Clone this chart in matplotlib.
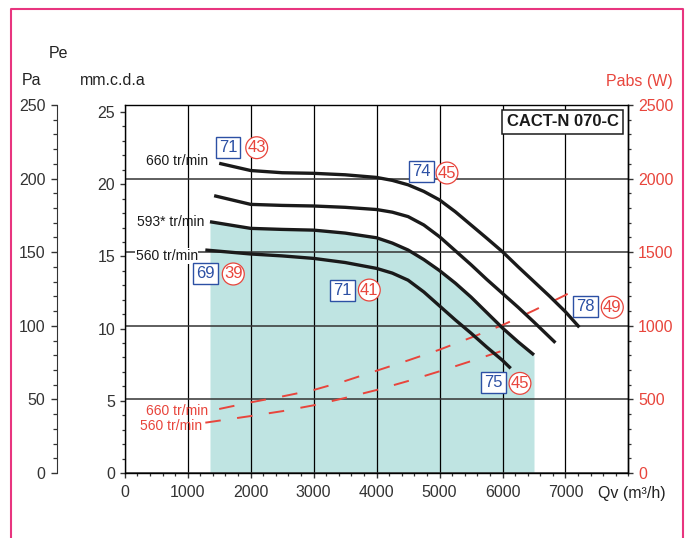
import numpy as np
import matplotlib.pyplot as plt
from matplotlib.lines import Line2D
from matplotlib.ticker import MultipleLocator, FixedLocator

plt.rcParams['font.family'] = ['Liberation Sans', 'DejaVu Sans']

# pressure curves : Qv (m3/h) / Pe (Pa)
q_660 = [1500, 2000, 2500, 3000, 3500, 4000, 4250, 4500, 4750, 5000, 5250, 5500, 5750, 6000, 6250, 6500, 6750, 7000, 7220]
pe_660 = [210.4, 205.5, 204, 203.6, 202.6, 200.8, 198.8, 195.8, 191.3, 185.5, 177.5, 168.5, 159.5, 150.3, 140, 130, 120, 109.5, 99]

q_620 = [1420, 2000, 2500, 3000, 3500, 4000, 4250, 4500, 4750, 5000, 5250, 5500, 5750, 6000, 6250, 6500, 6840]
pe_620 = [188.4, 182.5, 181.8, 181.4, 180.5, 179, 177.2, 174.2, 168.5, 160.5, 151, 141.5, 131.5, 122, 112.5, 102.5, 88.5]

q_593 = [1354, 2000, 2500, 3000, 3500, 4000, 4250, 4500, 4750, 5000, 5250, 5500, 5750, 6000, 6250, 6500]
pe_593 = [170.7, 166.2, 165.5, 165, 163, 159.8, 156.2, 151.5, 145, 137.5, 129, 119.5, 109, 98.5, 89, 80.2]

q_560 = [1280, 2000, 2500, 3000, 3500, 4000, 4250, 4500, 4750, 5000, 5250, 5500, 5750, 6000, 6130]
pe_560 = [151.5, 148.8, 147.5, 145.8, 143, 139, 135.8, 131, 123, 113.5, 104, 95, 85.5, 76.5, 71.1]

# absorbed power : Qv (m3/h) / Pabs (W)
qp_660 = [1500, 2000, 2500, 3000, 3500, 4000, 4500, 5000, 5500, 6000, 6500, 7000, 7220]
pabs_660 = [435, 480, 520, 564, 625, 695, 765, 838, 920, 1005, 1105, 1209, 1266]

qp_560 = [1280, 2000, 2500, 3000, 3500, 4000, 4500, 5000, 5500, 6000, 6140]
pabs_560 = [342, 387, 420, 460, 510, 564, 625, 691, 760, 831, 854]

# point labels : efficiency (blue box) and noise (red circle)
eff_labels = ['71', '74', '69', '71', '75', '78']
noise_labels = ['43', '45', '39', '41', '45', '49']

MM = 9.81  # Pa per mm.c.d.a
red = '#e8453c'
blue = '#2c50a4'

fig = plt.figure(figsize=(6.91, 5.38), dpi=100)
ax = fig.add_axes([0.1805, 0.1208, 0.729, 0.684])

ax.fill_between(q_593, pe_593, 0, color='#bfe4e2', lw=0, zorder=0.2)
for q, pe in [(q_660, pe_660), (q_620, pe_620), (q_593, pe_593), (q_560, pe_560)]:
    ax.plot(q, pe, color='#1a1a1a', lw=2.4, solid_capstyle='butt', solid_joinstyle='round', zorder=3)

ax.plot(qp_660, np.array(pabs_660) / 10, color=red, lw=1.4, dashes=(8, 8.5), zorder=2.5)
ax.plot(qp_560, np.array(pabs_560) / 10, color=red, lw=1.4, dashes=(8, 8.5), zorder=2.5)

ax.set_xlim(0, 8000)
ax.set_ylim(0, 250)
ax.set_axisbelow(True)

# Pa axis (offset to the left)
ax.spines['left'].set_position(('outward', 48.7))
ax.spines['left'].set_color('#333333')
ax.yaxis.set_major_locator(MultipleLocator(50))
ax.yaxis.set_minor_locator(MultipleLocator(10))
ax.tick_params(axis='y', which='major', direction='out', length=4.3, width=1, pad=4, labelsize=11.5, colors='#333333')
ax.tick_params(axis='y', which='minor', direction='out', length=2.8, width=0.9, colors='#333333')
ax.xaxis.set_major_locator(FixedLocator(range(0, 8000, 1000)))
ax.xaxis.set_minor_locator(MultipleLocator(200))
ax.tick_params(axis='x', which='major', direction='out', length=3.8, width=1, pad=5, labelsize=11.5, colors='#333333')
ax.tick_params(axis='x', which='minor', direction='out', length=2.5, width=0.9, colors='#333333')
for s in ['top', 'right', 'bottom']:
    ax.spines[s].set_linewidth(1.0)
ax.grid(axis='x', color='black', lw=0.9)
ax.grid(axis='y', color='#333333', lw=1.1)

# mm.c.d.a axis (box left side)
ax_mm = ax.twinx()
ax_mm.set_ylim(0, 250 / MM)
ax_mm.yaxis.set_ticks_position('left')
ax_mm.yaxis.set_label_position('left')
ax_mm.yaxis.set_major_locator(MultipleLocator(5))
ax_mm.yaxis.set_minor_locator(MultipleLocator(1))
ax_mm.tick_params(axis='y', which='major', direction='out', length=3.8, width=1, pad=3, labelsize=11.5, colors='#333333')
ax_mm.tick_params(axis='y', which='minor', direction='out', length=2.5, width=0.9, colors='#333333')
for s in ['top', 'right', 'bottom']:
    ax_mm.spines[s].set_visible(False)
ax_mm.spines['left'].set_linewidth(1.0)

# absorbed power axis
ax_w = ax.twinx()
ax_w.set_ylim(0, 2500)
ax_w.yaxis.set_major_locator(MultipleLocator(500))
ax_w.yaxis.set_minor_locator(MultipleLocator(100))
ax_w.tick_params(axis='y', which='major', direction='out', length=3.8, width=1, pad=3, labelsize=11.5, colors='#333333', labelcolor=red)
ax_w.tick_params(axis='y', which='minor', direction='out', length=2.5, width=0.9, colors='#333333')
for s in ['top', 'left', 'bottom']:
    ax_w.spines[s].set_visible(False)
ax_w.spines['right'].set_linewidth(1.0)

# curve labels
ax.text(1323, 211.9, '660 tr/min', ha='right', va='center', fontsize=10, color='#1a1a1a', zorder=5)
ax.text(1259, 170.7, '593* tr/min', ha='right', va='center', fontsize=10, color='#1a1a1a', zorder=5)
ax.text(1159, 147.4, '560 tr/min', ha='right', va='center', fontsize=10, color='#1a1a1a', zorder=5,
        bbox=dict(boxstyle='square,pad=0.05', fc='white', ec='none'))
ax.text(1323, 42.3, '660 tr/min', ha='right', va='center', fontsize=10, color=red, zorder=5)
ax.text(1223, 31.9, '560 tr/min', ha='right', va='center', fontsize=10, color=red, zorder=5)

eff_pos = [(1641, 221.1), (4713, 204.8), (1286, 135.7), (3455, 124.0), (5853, 61.3), (7320, 113.4)]
noise_pos = [(2096, 221.0), (5118, 203.8), (1724, 135.2), (3884, 124.3), (6277, 60.9), (7743, 112.6)]
for lab, (x, y) in zip(eff_labels, eff_pos):
    ax.text(x, y, lab, ha='center', va='center', fontsize=12, color=blue, zorder=6,
            bbox=dict(boxstyle='square,pad=0.18', fc='white', ec=blue, lw=1.0))
for lab, (x, y) in zip(noise_labels, noise_pos):
    ax.text(x, y, lab, ha='center', va='center', fontsize=12, color=red, zorder=6,
            bbox=dict(boxstyle='circle,pad=0.1', fc='white', ec=red, lw=0.9))

ax.text(6952, 238.5, 'CACT-N 070-C', ha='center', va='center', fontsize=12, fontweight='bold',
        color='#1a1a1a', zorder=6, bbox=dict(boxstyle='square,pad=0.25', fc='white', ec='#1a1a1a', lw=1.1))

# axis titles
W, H = 691, 538
fig.text(58.5 / W, 1 - 53 / H, 'Pe', ha='center', va='center', fontsize=11.5, color='#222222')
fig.text(31.5 / W, 1 - 80.7 / H, 'Pa', ha='center', va='center', fontsize=11.5, color='#222222')
fig.text(112.5 / W, 1 - 80.7 / H, 'mm.c.d.a', ha='center', va='center', fontsize=11.5, color='#222222')
fig.text(639 / W, 1 - 81.7 / H, 'Pabs (W)', ha='center', va='center', fontsize=11.5, color=red)
fig.text(632 / W, 1 - 493.3 / H, 'Qv (m³/h)', ha='center', va='center', fontsize=11.5, color='#222222')

# pink frame
pink = '#e8357f'
fig.add_artist(Line2D([11 / W, 11 / W, 683 / W, 683 / W], [0, 1 - 9 / H, 1 - 9 / H, 0],
                      transform=fig.transFigure, color=pink, lw=1.5))

fig.savefig('out.png', dpi=100)
